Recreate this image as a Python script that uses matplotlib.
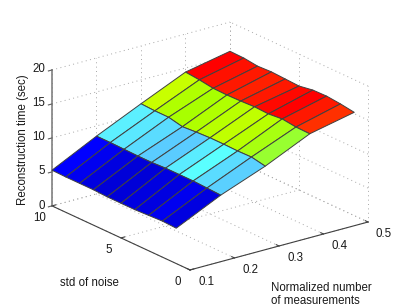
import numpy as np
import matplotlib
matplotlib.use("Agg")
import matplotlib.pyplot as plt
from mpl_toolkits.mplot3d import proj3d

plt.rcParams['font.family'] = ['Liberation Sans', 'DejaVu Sans']

measurements = [0.1, 0.2, 0.3, 0.4, 0.5]
noise_std = [10, 9, 8, 7, 6, 5, 4, 3, 2, 1]

# reconstruction time, one list per number of measurements
time_01 = [5.25, 5.2, 5.2, 5.2, 5.1, 5.1, 5.1, 5.2, 5.3, 5.2]
time_02 = [8.5, 8.5, 8.45, 8.4, 8.4, 8.5, 8.5, 8.5, 8.4, 8.3]
time_03 = [11.5, 11.4, 11.4, 10.95, 11.1, 11.2, 11.2, 11.15, 11.2, 10.8]
time_04 = [14.4, 14.2, 13.9, 13.85, 13.9, 14.0, 13.9, 14.1, 13.85, 13.8]
time_05 = [15.7, 15.65, 15.4, 15.5, 15.4, 15.3, 15.65, 15.7, 15.5, 15.2]

x_ticks = [0.1, 0.2, 0.3, 0.4, 0.5]
y_ticks = [0, 5, 10]
z_ticks = [0, 5, 10, 15, 20]

# cell colours, one list per band of the surface
band_1 = ['#0000ff', '#0000f0', '#0000e0', '#0000d8', '#0000d8', '#0000e0', '#0000e0', '#0000f0', '#0000e0']
band_2 = ['#5cf0ff', '#5ae8ff', '#5adcff', '#5accff', '#5accff', '#5aecff', '#5affff', '#5adcff', '#5ad0ff']
band_3 = ['#c8ff00', '#b0ff00', '#a8ff00', '#b0ff00', '#b8ff00', '#c0ff00', '#b8ff00', '#a8ff10', '#98ff30']
band_4 = ['#ff0000', '#ff1000', '#ff1800', '#ff2000', '#ff1800', '#ff0800', '#ff0000', '#ff1800', '#ff3000']

W, H = 407, 306
GRID = dict(color='#a8a8a8', lw=0.7, ls=(0, (1, 3.5)), zorder=1)
AXIS = dict(color='#404040', lw=0.8, zorder=2)

fig = plt.figure(figsize=(W / 100, H / 100), dpi=100)
ax = fig.add_axes([35.1 / W, -14.9 / H, 340.6 / W, 340.6 / H], projection='3d', proj_type='ortho')
ax.computed_zorder = False
ax.view_init(elev=20.7, azim=-127.3)
ax.set_box_aspect((224, 228, 145.4))
ax.set_axis_off()
ax.patch.set_alpha(0)

x0, x1 = x_ticks[0], x_ticks[-1]
y0, y1 = y_ticks[0], y_ticks[-1]
z0, z1 = z_ticks[0], z_ticks[-1]
ax.set_xlim(x0, x1)
ax.set_ylim(y0, y1)
ax.set_zlim(z0, z1)
ax.autoscale(False)

# dotted grid on floor and back walls
for x in x_ticks:
    ax.plot([x, x], [y0, y1], [z0, z0], **GRID)
    ax.plot([x, x], [y1, y1], [z0, z1], **GRID)
for y in y_ticks:
    ax.plot([x0, x1], [y, y], [z0, z0], **GRID)
    ax.plot([x1, x1], [y, y], [z0, z1], **GRID)
for z in z_ticks:
    ax.plot([x0, x1], [y1, y1], [z, z], **GRID)
    ax.plot([x1, x1], [y0, y1], [z, z], **GRID)

X, Y = np.meshgrid(measurements, noise_std)
Z = np.array([time_01, time_02, time_03, time_04, time_05]).T
colors = np.array([[matplotlib.colors.to_rgba(c) for c in band]
                   for band in (band_1, band_2, band_3, band_4)]).transpose(1, 0, 2)
ax.plot_surface(X, Y, Z, rstride=1, cstride=1, facecolors=colors, shade=False,
                edgecolor='#404040', linewidth=0.7, antialiased=True, zorder=3)

# axis lines
ax.plot([x0, x1], [y0, y0], [z0, z0], **AXIS)
ax.plot([x0, x0], [y0, y1], [z0, z0], **AXIS)
ax.plot([x0, x0], [y1, y1], [z0, z1], color='#808080', lw=1.2, zorder=2)

M = ax.get_proj()


def tick_label(x, y, z, text, dx, dy, ha='center'):
    px, py, _ = proj3d.proj_transform(x, y, z, M)
    ax.annotate(text, xy=(px, py), xytext=(dx, dy), textcoords='offset pixels',
                ha=ha, va='center', fontsize=8.3, color='#1a1a1a', annotation_clip=False)


for x in x_ticks:
    ax.plot([x, x], [y0, y0 + 0.2], [z0, z0], **AXIS)
    tick_label(x, y0, z0, '%.1f' % x, 16, -12)
for y in y_ticks:
    ax.plot([x0, x0 + 0.008], [y, y], [z0, z0], **AXIS)
    tick_label(x0, y, z0, str(y), -12, -12)
for z in z_ticks:
    ax.plot([x0 - 0.008, x0], [y1, y1], [z, z], color='#606060', lw=0.8, zorder=2)
    tick_label(x0, y1, z, str(z), -7, 1 if z else 0, ha='right')

fig.text(23 / W, 1 - 139.5 / H, 'Reconstruction time (sec)', rotation=90, ha='center', va='center',
         fontsize=8.3, color='#1a1a1a')
fig.text(89.5 / W, 1 - 282.5 / H, 'std of noise', ha='center', va='center', fontsize=8.3, color='#1a1a1a')
fig.text(271 / W, 1 - 294.5 / H, 'Normalized number\nof measurements', ha='left', va='center',
         fontsize=8.3, color='#1a1a1a', linespacing=1.2)

fig.savefig('out.png', dpi=100)
